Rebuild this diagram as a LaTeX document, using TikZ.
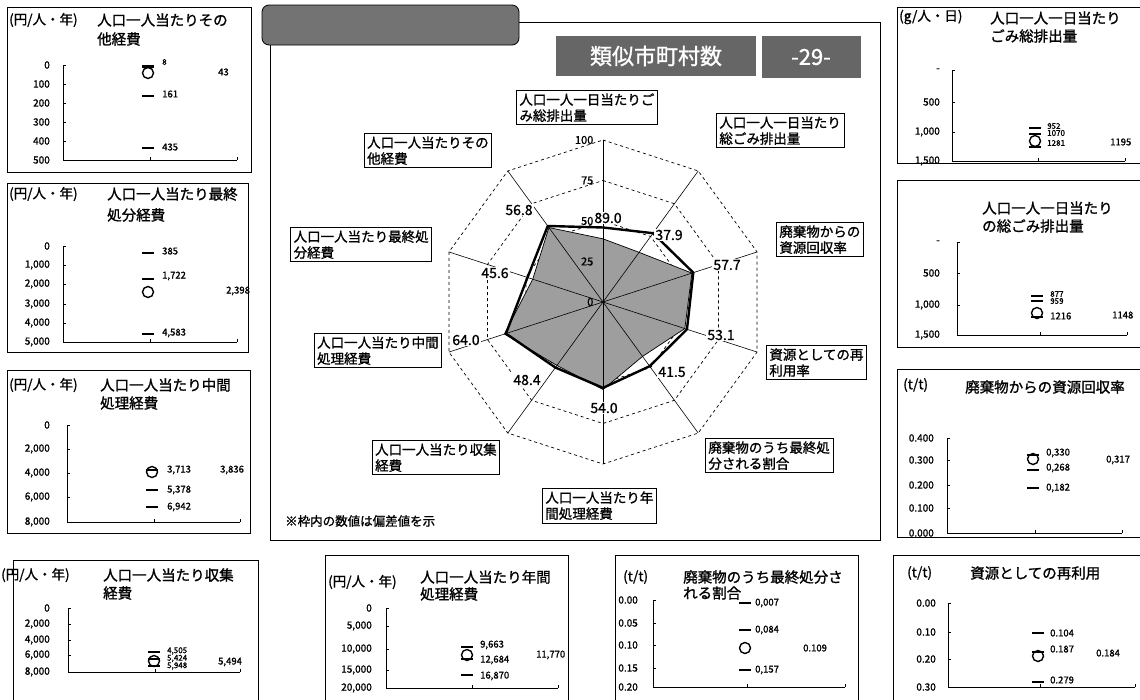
\documentclass[tikz,border=0pt]{standalone}
\usepackage{fontspec}
\setmainfont{Noto Sans CJK JP}[FakeBold=1.2]
\newcommand\mkd[2]{\draw[mk] ({#1-6},#2) -- ({#1+6},#2);}
\newcommand\mko[2]{\draw[mc] (#1,#2) circle[radius=5.5];}
\newcommand\yax[4]{\draw[ax] (#1,#2) -- (#1,#3) -- (#4,#3); \draw[ax] (#4,#3) -- (#4,{#3-3});}
\newcommand\yl[4]{\node[ylab] at (#2,#3) {#4}; \draw[ax] (#1,#3) -- ({#1+2.5},#3);}
\begin{document}
\begin{tikzpicture}[x=1pt,y=-1pt,
  box/.style={draw=black,line width=0.8pt},
  ttl/.style={anchor=west,inner sep=0pt,font=\fontsize{14.5}{16}\selectfont},
  unit/.style={anchor=west,inner sep=0pt,font=\fontsize{13.5}{15}\selectfont},
  ylab/.style={anchor=east,inner sep=0pt,font=\fontsize{10}{12}\selectfont},
  vlab/.style={anchor=west,inner sep=0pt,font=\fontsize{9.5}{11}\selectfont},
  slab/.style={anchor=west,inner sep=0pt,font=\fontsize{8}{8}\selectfont},
  ax/.style={line width=0.7pt},
  mk/.style={line width=2.4pt},
  mc/.style={line width=1.4pt},
  tbox/.style={draw=black,fill=white,line width=0.7pt,inner sep=3pt,align=left,font=\fontsize{13.5}{16}\selectfont},
  val/.style={fill=white,inner sep=1pt,font=\fontsize{14}{16}\selectfont},
  rlab/.style={anchor=east,inner sep=0.5pt,font=\fontsize{11}{12}\selectfont},
  ringline/.style={dash pattern=on 3pt off 3pt,line width=0.7pt},
]
\useasboundingbox (0,0) rectangle (1140,699);
\clip (0,0) rectangle (1140,699);
\fill[white] (0,0) rectangle (1140,699);

% ---------- L1
\draw[box] (7,7) rectangle (251,172);
\node[unit] (u1) at (9,20) {(円/人・年)};
\node[ttl] (t1a) at (97,20) {人口一人当たりその};
\node[ttl] (t1b) at (97,39) {他経費};
\yax{63}{65}{160}{237}
\draw[ax] (150,160) -- (150,157);
\yl{63}{50}{65}{0} \yl{63}{50}{84}{100} \yl{63}{50}{103}{200} \yl{63}{50}{122}{300} \yl{63}{50}{141}{400} \yl{63}{50}{160}{500}
\mkd{148}{66.5} \mko{148}{73} \mkd{148}{96} \mkd{148}{148}
\node[slab] at (162,62) {8}; \node[vlab] at (162,94) {161}; \node[vlab] at (162,147) {435}; \node[vlab] at (218,72) {43};

% ---------- L2
\draw[box] (7,183) rectangle (248,352);
\node[unit] at (9,194) {(円/人・年)};
\node[ttl] at (107,194) {人口一人当たり最終};
\node[ttl] at (107,215) {処分経費};
\yax{63}{246}{342}{237}
\draw[ax] (150,342) -- (150,339);
\yl{63}{50}{246}{0} \yl{63}{50}{265}{1,000} \yl{63}{50}{284}{2,000} \yl{63}{50}{304}{3,000} \yl{63}{50}{323}{4,000} \yl{63}{50}{342}{5,000}
\mkd{148}{253} \mkd{148}{279} \mko{148}{292} \mkd{148}{334}
\node[vlab] at (162,251) {385}; \node[vlab] at (162,276) {1,722}; \node[vlab] at (226,291) {2,398}; \node[vlab] at (162,333) {4,583};

% ---------- L3
\draw[box] (7,370) rectangle (250,533);
\node[unit] at (9,385) {(円/人・年)};
\node[ttl] at (100,385) {人口一人当たり中間};
\node[ttl] at (100,403) {処理経費};
\yax{67}{425}{522}{240}
\draw[ax] (154,522) -- (154,519);
\yl{67}{50}{425}{0} \yl{67}{50}{449}{2,000} \yl{67}{50}{473}{4,000} \yl{67}{50}{497}{6,000} \yl{67}{50}{522}{8,000}
\mkd{152}{470} \mko{152}{472} \mkd{152}{490} \mkd{152}{507}
\node[vlab] at (167,470) {3,713}; \node[vlab] at (220,470) {3,836}; \node[vlab] at (167,490) {5,378}; \node[vlab] at (167,507) {6,942};

% ---------- L4
\draw[box] (13,710) -- (13,560) -- (258,560) -- (258,710);
\node[unit] at (1,575) {(円/人・年)};
\node[ttl] at (103,575) {人口一人当たり収集};
\node[ttl] at (103,593) {経費};
\yax{68}{608}{672}{240}
\draw[ax] (155,672) -- (155,669);
\yl{68}{50}{608}{0} \yl{68}{50}{624}{2,000} \yl{68}{50}{640}{4,000} \yl{68}{50}{655}{6,000} \yl{68}{50}{672}{8,000}
\mkd{154}{652} \mkd{154}{659} \mko{154}{661} \mkd{154}{666}
\node[slab] at (167,651) {4,505}; \node[slab] at (167,658.5) {5,424}; \node[slab] at (167,666) {5,948}; \node[vlab] at (218,662) {5,494};

% ---------- B2
\draw[box] (325,710) -- (325,555) -- (568,555) -- (568,710);
\node[unit] at (328,582) {(円/人・年)};
\node[ttl] at (420,577) {人口一人当たり年間};
\node[ttl] at (420,594) {処理経費};
\yax{386}{608}{688}{558}
\draw[ax] (472,688) -- (472,685);
\yl{386}{372}{608}{0} \yl{386}{372}{626}{5,000} \yl{386}{372}{649}{10,000} \yl{386}{372}{670}{15,000} \yl{386}{372}{688}{20,000}
\mkd{467}{647} \mko{467}{655} \mkd{467}{659} \mkd{467}{675}
\node[vlab] at (480,645) {9,663}; \node[vlab] at (480,660) {12,684}; \node[vlab] at (480,676) {16,870}; \node[vlab] at (536,655) {11,770};

% ---------- B3
\draw[box] (615,710) -- (615,555) -- (858,555) -- (858,710);
\node[unit] at (623,577) {(t/t)};
\node[ttl] at (683,577) {廃棄物のうち最終処分さ};
\node[ttl] at (683,593) {れる割合};
\yax{653}{600}{687}{845}
\draw[ax] (747,687) -- (747,684);
\yl{653}{638}{600}{0.00} \yl{653}{638}{623}{0.05} \yl{653}{638}{645}{0.10} \yl{653}{638}{668}{0.15} \yl{653}{638}{687}{0.20}
\mkd{745}{603} \mkd{745}{630} \mko{745}{648} \mkd{745}{670}
\node[vlab] at (755,603) {0,007}; \node[vlab] at (755,630) {0,084}; \node[vlab] at (803,648) {0.109}; \node[vlab] at (755,670) {0,157};

% ---------- BR
\draw[box] (893,710) -- (893,555) -- (1150,555);
\node[unit] at (907,573) {(t/t)};
\node[ttl] at (970,573) {資源としての再利用};
\yax{948}{603}{687}{1135}
\draw[ax] (1040,687) -- (1040,684);
\yl{948}{936}{603}{0.00} \yl{948}{936}{632}{0.10} \yl{948}{936}{659}{0.20} \yl{948}{936}{687}{0.30}
\mkd{1038}{633} \mkd{1038}{652} \mko{1038}{656} \mkd{1038}{682}
\node[vlab] at (1050,633) {0.104}; \node[vlab] at (1050,649) {0.187}; \node[vlab] at (1096,653) {0.184}; \node[vlab] at (1050,680) {0.279};

% ---------- R1
\draw[box] (1150,7) -- (897,7) -- (897,163) -- (1150,163);
\node[unit] at (899,17) {(g/人・日)};
\node[ttl] at (990,18) {人口一人一日当たり};
\node[ttl] at (990,36) {ごみ総排出量};
\yax{952}{70}{161}{1125}
\draw[ax] (1038,161) -- (1038,158);
\yl{952}{940}{70}{-} \yl{952}{940}{102}{500} \yl{952}{940}{132}{1,000} \yl{952}{940}{161}{1,500}
\mkd{1035}{128} \mkd{1035}{134} \mko{1035}{141} \mkd{1035}{147}
\node[slab] at (1047,126) {952}; \node[slab] at (1047,133) {1070}; \node[slab] at (1047,143) {1281}; \node[vlab] at (1110,142) {1195};

% ---------- R2
\draw[box] (1150,180) -- (897,180) -- (897,347) -- (1150,347);
\node[ttl] at (982,208) {人口一人一日当たり};
\node[ttl] at (982,226) {の総ごみ排出量};
\yax{957}{242}{335}{1127}
\draw[ax] (1040,335) -- (1040,332);
\yl{957}{940}{242}{-} \yl{957}{940}{273}{500} \yl{957}{940}{305}{1,000} \yl{957}{940}{335}{1,500}
\mkd{1037}{296} \mkd{1037}{301} \mko{1037}{313} \mkd{1037}{317}
\node[slab] at (1050,294) {877}; \node[slab] at (1050,301) {959}; \node[vlab] at (1050,316) {1216}; \node[vlab] at (1112,315) {1148};

% ---------- R3
\draw[box] (1150,369) -- (897,369) -- (897,537) -- (1150,537);
\node[unit] at (903,385) {(t/t)};
\node[ttl] at (965,387) {廃棄物からの資源回収率};
\yax{947}{438}{533}{1122}
\draw[ax] (1035,533) -- (1035,530);
\yl{947}{934}{438}{0.400} \yl{947}{934}{460}{0.300} \yl{947}{934}{485}{0.200} \yl{947}{934}{508}{0.100} \yl{947}{934}{533}{0.000}
\mkd{1033}{455} \mko{1033}{459} \mkd{1033}{470} \mkd{1033}{488}
\node[vlab] at (1046,453) {0,330}; \node[vlab] at (1046,468) {0,268}; \node[vlab] at (1046,488) {0,182}; \node[vlab] at (1106,460) {0,317};

% ---------- central frame
\draw[line width=0.8pt] (519,22) -- (880,22) -- (880,540) -- (270,540) -- (270,45);
\draw[fill=black!55,line width=0.8pt,rounded corners=7pt] (262,5) rectangle (519,45);
\node[fill=black!60,minimum width=200pt,minimum height=40pt,text=white,inner sep=0pt,font=\fontsize{22}{24}\selectfont] (nsim) at (656,56) {類似市町村数};
\node[fill=black!60,minimum width=99pt,minimum height=42pt,text=white,inner sep=0pt,font=\fontsize{22}{24}\selectfont] (ncnt) at (811,57) {-29-};

% ---------- radar
\coordinate (C) at (603,302);
\foreach \f in {0.25,0.5,0.75,1.0}{
  \draw[ringline] ([shift={(-90:{162*\f})}]C) \foreach \i in {1,...,9}{ -- ([shift={({36*\i-90}:{162*\f})}]C)} -- cycle;
}
\foreach \v [count=\i from 0] in {39.0,37.9,57.7,53.1,41.5,54.0,48.4,64.0,45.6,56.8}{
  \coordinate (s\i) at ([shift={({36*\i-90}:{1.62*\v})}]C);
}
\foreach \v [count=\i from 0] in {46,52.5,58.6,54.5,49,53,50,63,49,58}{
  \coordinate (k\i) at ([shift={({36*\i-90}:{1.62*\v})}]C);
}
\draw[fill=black!38,line width=0.7pt] (s0) -- (s1) -- (s2) -- (s3) -- (s4) -- (s5) -- (s6) -- (s7) -- (s8) -- (s9) -- cycle;
\foreach \i in {0,...,9}{ \draw[line width=0.6pt] (C) -- ([shift={({36*\i-90}:162)}]C); }
\draw[line width=2.4pt,line join=round] (k0) -- (k1) -- (k2) -- (k3) -- (k4) -- (k5) -- (k6) -- (k7) -- (k8) -- (k9) -- cycle;
\node[rlab] at (594,302) {0};
\node[rlab] at (594,261.5) {25};
\node[rlab] at (594,221) {50};
\node[rlab] at (594,180.5) {75};
\node[rlab] at (594,140) {100};
\node[val] at (608,218) {89.0};
\node[val] at (669,235) {37.9};
\node[val] at (727,265) {57.7};
\node[val] at (721,335) {53.1};
\node[val] at (672,372) {41.5};
\node[val] at (604,408) {54.0};
\node[val] at (527,380) {48.4};
\node[val] at (466,340) {64.0};
\node[val] at (495,273) {45.6};
\node[val] at (519,210) {56.8};

\node[tbox,anchor=north west] (a0) at (516,90) {人口一人一日当たりご\\み総排出量};
\node[tbox,anchor=north west] (a1) at (716,113) {人口一人一日当たり\\総ごみ排出量};
\node[tbox,anchor=north west] (a2) at (776,222) {廃棄物からの\\資源回収率};
\node[tbox,anchor=north west] (a3) at (766,345) {資源としての再\\利用率};
\node[tbox,anchor=north west] (a4) at (705,438) {廃棄物のうち最終処\\分される割合};
\node[tbox,anchor=north west] (a5) at (542,488) {人口一人当たり年\\間処理経費};
\node[tbox,anchor=north east] (a6) at (500,440) {人口一人当たり収集\\経費};
\node[tbox,anchor=north east] (a7) at (442,333) {人口一人当たり中間\\処理経費};
\node[tbox,anchor=north east] (a8) at (432,227) {人口一人当たり最終処\\分経費};
\node[tbox,anchor=north east] (a9) at (492,133) {人口一人当たりその\\他経費};
\node[anchor=west,inner sep=0pt,font=\fontsize{12.5}{14}\selectfont] (note) at (285,521) {※枠内の数値は偏差値を示};
\end{tikzpicture}
\end{document}
